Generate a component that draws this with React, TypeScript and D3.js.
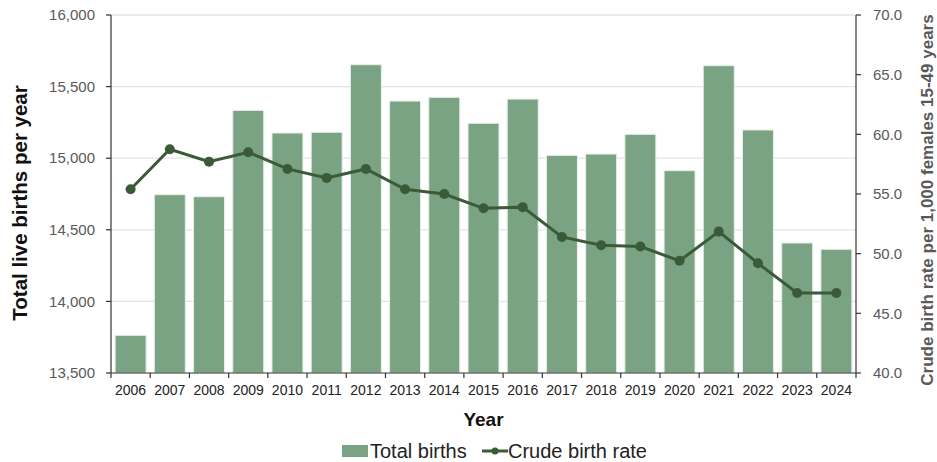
import React from "react";
import * as d3 from "d3";

const years = ["2006","2007","2008","2009","2010","2011","2012","2013","2014","2015","2016","2017","2018","2019","2020","2021","2022","2023","2024"];
const totalBirths = [13763,14745,14731,15334,15176,15181,15653,15399,15425,15244,15413,15020,15029,15167,14913,15646,15197,14408,14364];
const crudeRate = [55.4,58.75,57.7,58.5,57.1,56.35,57.1,55.4,55.0,53.8,53.9,51.4,50.7,50.6,49.4,51.85,49.2,46.7,46.7];
const leftTicks = [13500,14000,14500,15000,15500,16000];
const rightTicks = [40,45,50,55,60,65,70];

const W = 937, H = 462;
const M = { left: 111, right: 856, top: 15, bottom: 373 };
const FONT = "Liberation Sans, Arial, sans-serif";

export default function App() {
  const x = d3.scaleBand<string>().domain(years).range([M.left, M.right]).paddingInner(0.21).paddingOuter(0.105);
  const yL = d3.scaleLinear().domain([13500, 16000]).range([M.bottom, M.top]);
  const yR = d3.scaleLinear().domain([40, 70]).range([M.bottom, M.top]);
  const step = (M.right - M.left) / years.length;
  const line = d3.line<number>().x((_, i) => (x(years[i]) as number) + x.bandwidth() / 2).y(d => yR(d));
  const fmt = d3.format(",");
  const barColor = "#7aa383";
  const lineColor = "#3b5b38";
  const tickColor = "#595959";

  return (
    <svg width={W} height={H} style={{ display: "block", position: "absolute", left: 0, top: 0 }} fontFamily={FONT}>
      <rect width={W} height={H} fill="#fff" />
      {leftTicks.slice(1, -1).map(t => (
        <line key={t} x1={M.left} x2={M.right} y1={yL(t)} y2={yL(t)} stroke="#e3e3e3" strokeWidth={1.3} />
      ))}
      <line x1={M.left} x2={M.right} y1={M.top} y2={M.top} stroke="#e3e3e3" strokeWidth={1.3} />
      {years.map((yr, i) => (
        <rect key={yr} x={x(yr)} y={yL(totalBirths[i])} width={x.bandwidth()} height={M.bottom - yL(totalBirths[i])}
          fill={barColor} stroke="#e8efe8" strokeWidth={1} />
      ))}
      <path d={line(crudeRate) || ""} fill="none" stroke={lineColor} strokeWidth={3} />
      {crudeRate.map((v, i) => (
        <circle key={i} cx={(x(years[i]) as number) + x.bandwidth() / 2} cy={yR(v)} r={5} fill={lineColor} />
      ))}
      {/* left axis */}
      <line x1={M.left} x2={M.left} y1={M.top} y2={M.bottom} stroke="#333" strokeWidth={1.2} />
      {leftTicks.map(t => (
        <g key={t}>
          <line x1={M.left - 5} x2={M.left} y1={yL(t)} y2={yL(t)} stroke="#333" strokeWidth={1.2} />
          <text x={M.left - 16} y={yL(t)} dy="0.35em" textAnchor="end" fontSize={15} fill={tickColor}>{fmt(t)}</text>
        </g>
      ))}
      {/* right axis */}
      <line x1={M.right} x2={M.right} y1={M.top} y2={M.bottom} stroke="#333" strokeWidth={1.2} />
      {rightTicks.map(t => (
        <g key={t}>
          <line x1={M.right} x2={M.right + 5} y1={yR(t)} y2={yR(t)} stroke="#333" strokeWidth={1.2} />
          <text x={M.right + 17} y={yR(t)} dy="0.35em" textAnchor="start" fontSize={15} fill={tickColor}>{t.toFixed(1)}</text>
        </g>
      ))}
      {/* bottom axis */}
      <line x1={M.left} x2={M.right} y1={M.bottom} y2={M.bottom} stroke="#333" strokeWidth={1.2} />
      {d3.range(years.length + 1).map(i => (
        <line key={i} x1={M.left + i * step} x2={M.left + i * step} y1={M.bottom} y2={M.bottom + 5} stroke="#333" strokeWidth={1.2} />
      ))}
      {years.map(yr => (
        <text key={yr} x={(x(yr) as number) + x.bandwidth() / 2} y={390} dy="0.35em" textAnchor="middle" fontSize={14} fill="#222">{yr}</text>
      ))}
      <text x={(M.left + M.right) / 2} y={419} dy="0.35em" textAnchor="middle" fontSize={19} fontWeight="bold" fill="#111">Year</text>
      <text transform={`translate(20,${(M.top + M.bottom) / 2 + 9}) rotate(-90)`} textAnchor="middle" dy="0.35em" fontSize={20.5} fontWeight="bold" fill="#111">Total live births per year</text>
      <text transform={`translate(927,${(M.top + M.bottom) / 2 + 6}) rotate(-90)`} textAnchor="middle" dy="0.35em" fontSize={17} fontWeight="bold" fill="#595959">Crude birth rate per 1,000 females 15-49 years</text>
      {/* legend */}
      <rect x={342} y={445} width={26} height={12} fill={barColor} />
      <text x={370} y={451} dy="0.35em" fontSize={20} fill="#222">Total births</text>
      <line x1={482} x2={508} y1={451} y2={451} stroke={lineColor} strokeWidth={3} />
      <circle cx={495} cy={451} r={3.5} fill={lineColor} />
      <text x={508} y={451} dy="0.35em" fontSize={20} fill="#222">Crude birth rate</text>
    </svg>
  );
}
